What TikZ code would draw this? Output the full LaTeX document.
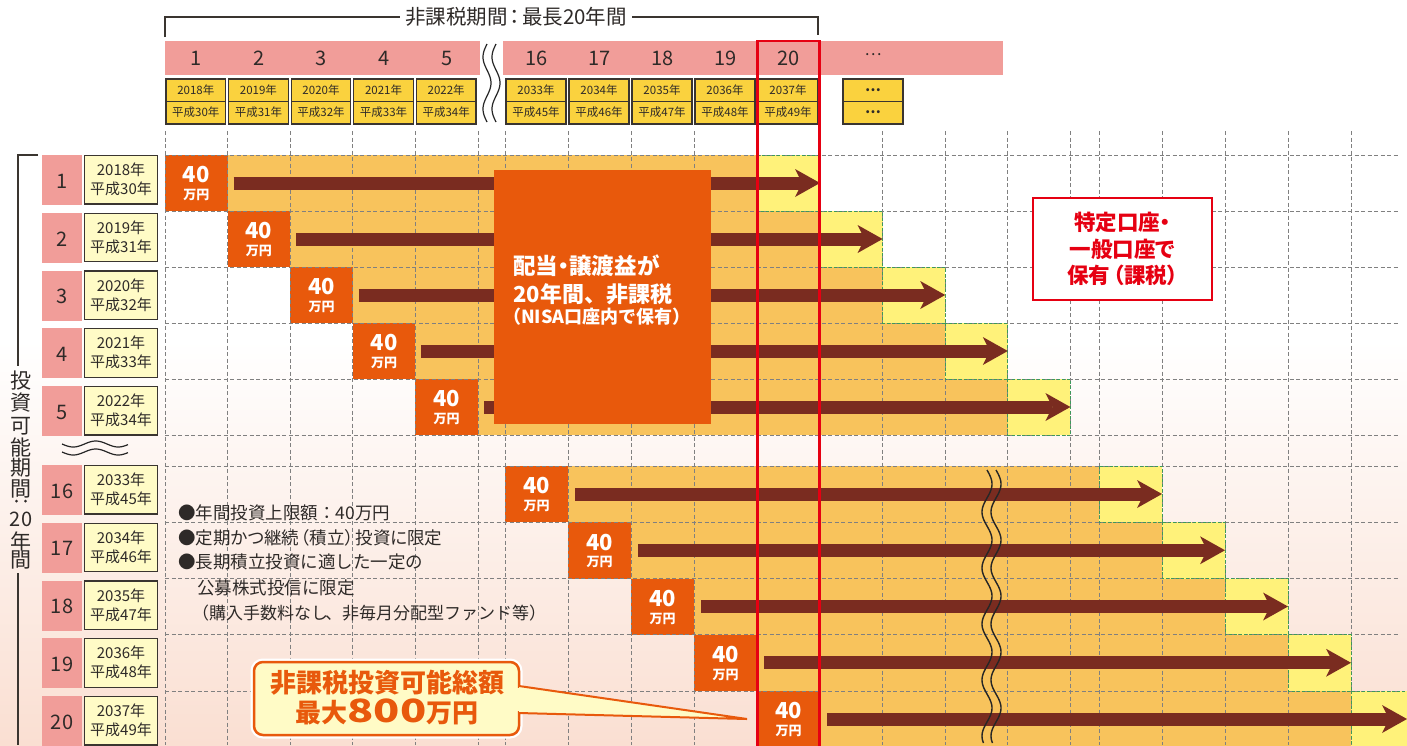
\documentclass[tikz,border=0pt]{standalone}
\usepackage{fontspec}
\usepackage{graphicx}
\setmainfont{Noto Sans CJK JP}
\newfontfamily\jpp[RawFeature=+palt]{Noto Sans CJK JP}
\usetikzlibrary{arrows.meta}
\definecolor{pinkband}{HTML}{F19D99}
\definecolor{gold}{HTML}{FAD23E}
\definecolor{lightorange}{HTML}{F8C35C}
\definecolor{yell}{HTML}{FFF27A}
\definecolor{boxorange}{HTML}{E8590C}
\definecolor{arrowbrown}{HTML}{7A2C20}
\definecolor{nisared}{HTML}{E60012}
\definecolor{gridgray}{HTML}{808080}
\definecolor{txt}{HTML}{2E2A28}
\definecolor{paleyellow}{HTML}{FFFBC6}
\definecolor{peach}{HTML}{FADFD2}
\definecolor{greendash}{HTML}{3C9A5A}
\definecolor{boxline}{HTML}{3A3530}
\newcommand\fsz[1]{\fontsize{#1}{#1}\selectfont}
\begin{document}
\begin{tikzpicture}[x=1pt,y=-1pt,
  gridline/.style={draw=gridgray,line width=0.9pt,dash pattern=on 4pt off 2.5pt},
  greenline/.style={draw=greendash,line width=0.8pt,dash pattern=on 3pt off 2pt},
  bigarrow/.style={draw=arrowbrown,line width=13pt,-{Stealth[length=25pt,width=28pt,inset=7pt,line width=0pt]}},
  txtnode/.style={inner sep=0pt,text=txt},
  fortyA/.style={inner sep=0pt,text=white,font=\fsz{22}\bfseries},
  fortyB/.style={inner sep=0pt,text=white,font=\fsz{13}\bfseries},
  hdrnum/.style={inner sep=0pt,text=txt,font=\fsz{20}},
  yrbox/.style={fill=gold,draw=boxline,line width=1.3pt},
  lblbox/.style={fill=paleyellow,draw=boxline,line width=1.3pt},
  wavy/.style={draw=black!85,line width=1.4pt},
]
\useasboundingbox (0,0) rectangle (1407,745);
\fill[white] (0,0) rectangle (1407,745);
\shade[top color=white,bottom color=peach] (0,340) rectangle (1407,745);

% ---------- row fills and 40 boxes ----------
\foreach \i in {0,...,4}{
  \pgfmathsetmacro\yt{155+56*\i}
  \pgfmathsetmacro\bl{165+62.6*\i}
  \pgfmathsetmacro\br{\bl+62.6}
  \pgfmathsetmacro\en{820+62.6*\i}
  \pgfmathsetmacro\yl{\en-62.6}
  \fill[lightorange] (\br,\yt) rectangle (\yl,\yt+56);
  \fill[yell] (\yl,\yt) rectangle (\en,\yt+56);
  \fill[boxorange] (\bl,\yt) rectangle (\br,\yt+56);
  \node[fortyA] (ua\i) at ({(\bl+\br)/2},\yt+20) {40};
  \node[fortyB] (ub\i) at ({(\bl+\br)/2},\yt+40) {万円};
  \coordinate (us\i) at (\br+6,\yt+28);
  \coordinate (ue\i) at (\en,\yt+28);
}
\foreach \j in {0,...,4}{
  \pgfmathsetmacro\yt{466+56.25*\j}
  \pgfmathsetmacro\bl{505+63*\j}
  \pgfmathsetmacro\br{\bl+63}
  \pgfmathsetmacro\en{1162+63*\j}
  \pgfmathsetmacro\yl{\en-63}
  \pgfmathsetmacro\ae{min(\en,1407)}
  \fill[lightorange] (\br,\yt) rectangle (\yl,\yt+56.25);
  \fill[yell] (\yl,\yt) rectangle (\en,\yt+56.25);
  \fill[boxorange] (\bl,\yt) rectangle (\br,\yt+56.25);
  \node[fortyA] (la\j) at ({(\bl+\br)/2},\yt+20) {40};
  \node[fortyB] (lb\j) at ({(\bl+\br)/2},\yt+40) {万円};
  \coordinate (ls\j) at (\br+7,\yt+28);
  \coordinate (le\j) at (\ae,\yt+28);
}

% ---------- dashed grid ----------
\foreach \x in {165,227.6,290.2,352.8,415.4,478,505,568,631,694,757,820,882.6,945.2,1007.8,1070.4,1099,1162,1225,1288,1351}
  \draw[gridline] (\x,131) -- (\x,745);
\foreach \y in {155,211,267,323,379,435,466,522.25,578.5,634.75,691}
  \draw[gridline] (165,\y) -- (1398,\y);

% green dashed outlines of the last (yellow) cells
\foreach \i in {0,...,4}{
  \pgfmathsetmacro\yt{155+56*\i}
  \pgfmathsetmacro\en{820+62.6*\i}
  \draw[greenline] (\en-62.6,\yt) rectangle (\en,\yt+56);
}
\foreach \j in {0,...,4}{
  \pgfmathsetmacro\yt{466+56.25*\j}
  \pgfmathsetmacro\en{1162+63*\j}
  \draw[greenline] (\en-63,\yt) rectangle (\en,\yt+56.25);
}

% ---------- arrows ----------
\foreach \i in {0,...,4}{ \draw[bigarrow] (us\i) -- (ue\i); }
\foreach \j in {0,...,4}{ \draw[bigarrow] (ls\j) -- (le\j); }

% ---------- central box ----------
\fill[boxorange] (494,170) rectangle (711,424);
\node[anchor=west,inner sep=0pt,text=white,font=\jpp\fsz{22.5}\bfseries] (c1) at (513,266) {配当・譲渡益が};
\node[anchor=west,inner sep=0pt,text=white,font=\fsz{22}\bfseries] (c2) at (513,294) {20年間、非課税};
\node[anchor=west,inner sep=0pt,text=white,font=\fsz{18}\bfseries] (c3) at (503,317) {（NISA口座内で保有）};

% ---------- break marks ----------
\draw[wavy] plot[domain=470:743,samples=160] ({987+5*sin((\x-470)*6.4286)},\x);
\draw[wavy] plot[domain=470:743,samples=160] ({996+5*sin((\x-470)*6.4286)},\x);

% ---------- header ----------
\fill[pinkband] (165,41) rectangle (480,75);
\fill[pinkband] (503,41) rectangle (1003,75);
\foreach \l/\r/\n/\yr/\hs in {165/227.6/1/2018/30, 227.6/290.2/2/2019/31, 290.2/352.8/3/2020/32, 352.8/415.4/4/2021/33, 415.4/478/5/2022/34, 505/568/16/2033/45, 568/631/17/2034/46, 631/694/18/2035/47, 694/757/19/2036/48, 757/820/20/2037/49}{
  \node[hdrnum] (h\n) at ({(\l+\r)/2},58) {\n};
  \draw[yrbox] (\l+1,79) rectangle (\r-2,124);
  \draw[boxline,line width=1.3pt] (\l+1,101.5) -- (\r-2,101.5);
  \node[txtnode,font=\fsz{11.5}] (hy\n) at ({(\l+\r)/2-0.5},90.5) {\yr 年};
  \node[txtnode,font=\fsz{11.5}] (hh\n) at ({(\l+\r)/2-0.5},112.5) {平成\hs 年};
}
\node[hdrnum,font=\fsz{16}] (hdots) at (873,55) {…};
\draw[yrbox] (843,79) rectangle (903,124);
\draw[boxline,line width=1.3pt] (843,101.5) -- (903,101.5);
\node[txtnode,font=\fsz{14}\bfseries] (dd1) at (873,90.5) {…};
\node[txtnode,font=\fsz{14}\bfseries] (dd2) at (873,112.5) {…};
\draw[wavy,line width=1.2pt] plot[domain=44:122,samples=60] ({487+4*sin(180+(\x-44)*6.923)},\x);
\draw[wavy,line width=1.2pt] plot[domain=44:122,samples=60] ({496+4*sin(180+(\x-44)*6.923)},\x);
\draw[boxline,line width=1.2pt] (165,37) -- (165,17) -- (400,17);
\draw[boxline,line width=1.2pt] (632,17) -- (818,17) -- (818,35);
\node[txtnode,font=\jpp\fsz{20.5}] (title) at (516,17) {非課税期間\kern2pt：\kern2pt最長20年間};

% red column
\draw[nisared,line width=2.5pt] (757.5,41) rectangle (819.5,760);

% ---------- left labels ----------
\foreach \k/\t/\n/\yr/\hs in {0/155/1/2018/30, 1/212.75/2/2019/31, 2/270.5/3/2020/32, 3/328.25/4/2021/33, 4/386/5/2022/34, 5/465/16/2033/45, 6/522.75/17/2034/46, 7/580.5/18/2035/47, 8/638.25/19/2036/48, 9/696/20/2037/49}{
  \fill[pinkband] (42,\t) rectangle (82,\t+50);
  \node[txtnode,font=\fsz{20}] (ln\k) at (62,\t+26) {\n};
  \draw[lblbox] (84.5,\t+0.5) rectangle (157.5,\t+49);
  \node[txtnode,font=\fsz{15}] (ly\k) at (121,\t+15) {\yr 年};
  \node[txtnode,font=\fsz{15}] (lh\k) at (121,\t+34) {平成\hs 年};
}
\draw[boxline,line width=1.2pt] (38,155) -- (18,155) -- (18,366);
\draw[boxline,line width=1.2pt] (18,573) -- (18,745);
\foreach \c/\yy [count=\q] in {投/381,資/403,可/426,能/447,期/468,間/489,年/541,間/560}
  \node[txtnode,font=\fsz{21}] (vt\q) at (21,\yy) {\c};
\node[txtnode,font=\fsz{20}] (vt20) at (21,519) {20};
\fill[txt] (16.5,501) circle (1.5) (25.5,501) circle (1.5);
\draw[wavy,line width=1.2pt] plot[domain=62:128,samples=60] (\x,{444+3*sin((\x-62)*8)});
\draw[wavy,line width=1.2pt] plot[domain=62:128,samples=60] (\x,{452+3*sin((\x-62)*8)});

% ---------- taxable box ----------
\draw[nisared,line width=2.5pt,fill=white] (1033,198) rectangle (1212,300);
\node[inner sep=0pt,text=nisared,font=\jpp\fontsize{21.5}{26.5}\selectfont\bfseries,align=center] (taxbox) at (1122.5,249) {特定口座・\\一般口座で\\保有\kern3pt（課税）};

% ---------- bullets ----------
\node[anchor=west,txtnode,font=\fsz{17.5}] (b1) at (178,513) {●年間投資上限額：40万円};
\node[anchor=west,txtnode,font=\jpp\fsz{17.5}] (b2) at (178,538) {●定期かつ継続\kern2pt（積立）\kern2pt投資に限定};
\node[anchor=west,txtnode,font=\fsz{17.5}] (b3) at (178,562) {●長期積立投資に適した一定の};
\node[anchor=west,txtnode,font=\fsz{17.5}] (b4) at (197,588) {公募株式投信に限定};
\node[anchor=west,txtnode,font=\fsz{17}] (b5) at (192,613) {（購入手数料なし\kern-3pt、非毎月分配型ファンド等）};

% ---------- callout ----------
\draw[white,line width=7pt,rounded corners=9pt] (254,662) rectangle (519,735);
\draw[fill=paleyellow,draw=boxorange,line width=2.5pt,rounded corners=9pt] (254,662) rectangle (519,735);
\draw[fill=paleyellow,draw=boxorange,line width=2pt,line join=miter] (519,686) -- (747,719) -- (519,713);
\fill[paleyellow] (516.5,688) rectangle (522,711.3);
\node[inner sep=0pt,text=boxorange,font=\fsz{26}\bfseries] (co1) at (387,683) {非課税投資可能総額};
\node[inner sep=0pt,text=boxorange,font=\fsz{26}\bfseries] (co2) at (387,712) {最大\scalebox{1.35}[1]{\fsz{32}800}万円};
\end{tikzpicture}
\end{document}
